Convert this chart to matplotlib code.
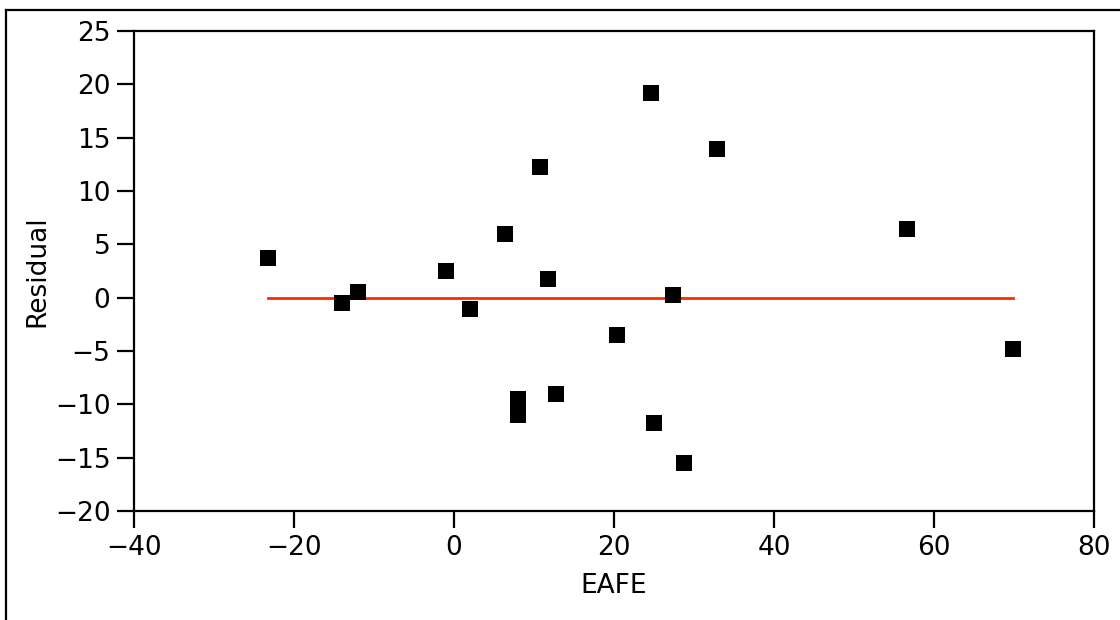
import matplotlib
matplotlib.use("Agg")
import matplotlib.pyplot as plt
from matplotlib.lines import Line2D

plt.rcParams["font.family"] = ["DejaVu Sans"]

# EAFE 与残差
eafe = [-23.3, -14.0, -12.0, -1.0, 2.0, 6.4, 10.8, 11.8, 8.0, 8.0,
        12.8, 20.4, 24.6, 25.0, 27.4, 28.8, 32.9, 56.6, 69.9]
residual = [3.7, -0.5, 0.5, 2.5, -1.05, 6.0, 12.25, 1.75, -9.5, -11.0,
            -9.05, -3.5, 19.2, -11.75, 0.25, -15.5, 13.95, 6.45, -4.8]
fit_x = [min(eafe), max(eafe)]
fit_y = [0.0, 0.0]

xticks = [-40, -20, 0, 20, 40, 60, 80]
yticks = [-20, -15, -10, -5, 0, 5, 10, 15, 20, 25]

FS = 19
C_RED = "#ff2a00"

fig = plt.figure(figsize=(11.2, 6.2), dpi=100)
ax = fig.add_axes([134/1120, 109/620, 960/1120, 480/620])

ax.plot(fit_x, fit_y, color=C_RED, lw=2.0, zorder=2)
ax.scatter(eafe, residual, marker="s", s=125, color="black", linewidths=0, zorder=3)

ax.set_xlim(-40, 80)
ax.set_ylim(-20, 25)
ax.set_xticks(xticks)
ax.set_yticks(yticks)
ax.tick_params(direction="out", length=12, width=1.6, labelsize=FS, pad=5)
for s in ax.spines.values():
    s.set_linewidth(1.6)

ax.set_xlabel("EAFE", fontsize=FS, labelpad=9)
ax.set_ylabel("Residual", fontsize=FS, labelpad=3)

# 外框（左、上两条边）
fig.add_artist(Line2D([6/1120, 1.0], [1 - 10/620, 1 - 10/620], color="black", lw=1.6,
                      transform=fig.transFigure))
fig.add_artist(Line2D([6/1120, 6/1120], [0.0, 1 - 10/620], color="black", lw=1.6,
                      transform=fig.transFigure))

fig.savefig("out.png", dpi=100, facecolor="white")
